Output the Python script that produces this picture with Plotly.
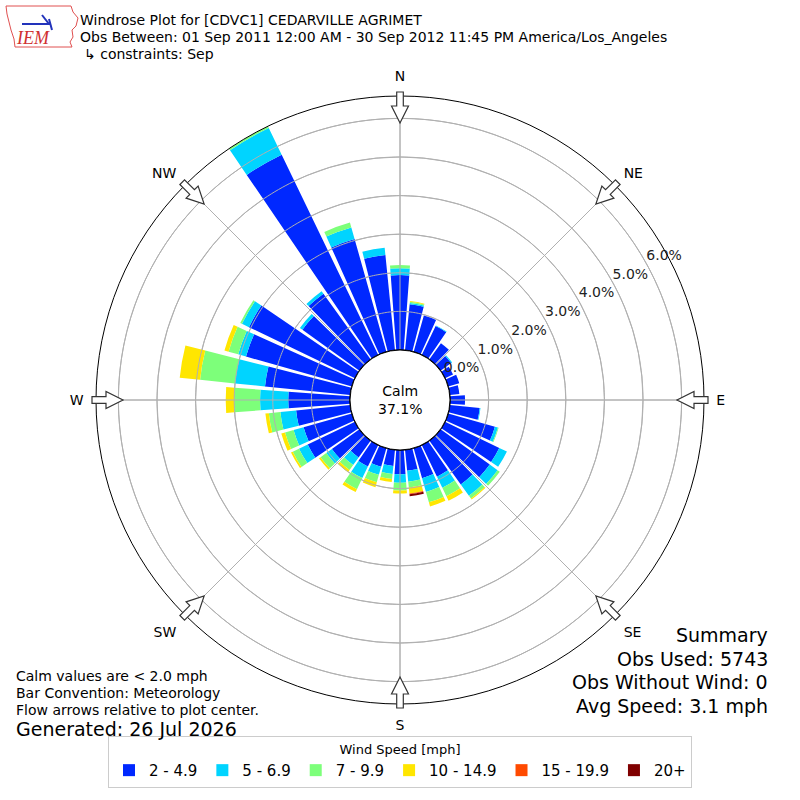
import math
import plotly.graph_objects as go

# wind direction bins (degrees, meteorological) and speed classes
directions = list(range(0, 360, 10))
speed_bins = ["2 - 4.9", "5 - 6.9", "7 - 9.9", "10 - 14.9", "15 - 19.9", "20+"]
bin_colors = ["#0028ff", "#00d4ff", "#7dff7a", "#ffe600", "#ff4a00", "#800000"]

# frequency (% of obs) per direction for each speed class
pct_2_5 = [1.94, 1.20, 0.98, 0.83, 0.52, 0.34, 0.23, 0.30, 0.25, 0.39, 0.78, 1.26,
           1.56, 1.57, 1.40, 0.91, 0.81, 0.55, 0.63, 0.42, 0.50, 0.62, 0.54, 0.88,
           1.36, 1.30, 1.41, 1.60, 2.22, 2.85, 3.05, 1.82, 2.10, 5.76, 3.04, 2.48]
pct_5_7 = [0.18, 0.03, 0.00, 0.02, 0.00, 0.03, 0.00, 0.00, 0.00, 0.00, 0.02, 0.08,
           0.22, 0.25, 0.36, 0.32, 0.37, 0.28, 0.22, 0.21, 0.22, 0.33, 0.24, 0.18,
           0.25, 0.27, 0.41, 0.73, 0.78, 0.21, 0.20, 0.08, 0.08, 0.77, 0.31, 0.19]
pct_7_10 = [0.08, 0.03, 0.00, 0.00, 0.00, 0.00, 0.00, 0.00, 0.00, 0.00, 0.00, 0.02,
            0.00, 0.07, 0.09, 0.24, 0.28, 0.15, 0.20, 0.13, 0.20, 0.32, 0.16, 0.18,
            0.18, 0.23, 0.30, 0.67, 0.91, 0.26, 0.05, 0.00, 0.00, 0.05, 0.13, 0.00]
pct_10_15 = [0.00, 0.02, 0.00, 0.00, 0.00, 0.00, 0.00, 0.00, 0.00, 0.00, 0.00, 0.00,
             0.00, 0.00, 0.03, 0.13, 0.11, 0.16, 0.08, 0.08, 0.13, 0.08, 0.07, 0.05,
             0.05, 0.10, 0.09, 0.22, 0.53, 0.11, 0.00, 0.00, 0.00, 0.00, 0.00, 0.00]
pct_15_20 = [0.0] * 17 + [0.02] + [0.0] * 18
pct_20_up = [0.0] * 17 + [0.05] + [0.0] * 18
speed_values = [pct_2_5, pct_5_7, pct_7_10, pct_10_15, pct_15_20, pct_20_up]

ring_ticks = [0, 1, 2, 3, 4, 5, 6]
ring_labels = ["0.0%", "1.0%", "2.0%", "3.0%", "4.0%", "5.0%", "6.0%"]
compass_angles = [0, 45, 90, 135, 180, 225, 270, 315]
compass_labels = ["N", "NE", "E", "SE", "S", "SW", "W", "NW"]
calm_pct = 37.1
r_max = 6.58

W = H = 800
CX, CY, R_OUT = 400, 400, 304
GRID = "#b0b0b0"
FONT = "DejaVu Sans"

fig = go.Figure()
for name, color, vals in zip(speed_bins, bin_colors, speed_values):
    fig.add_trace(go.Barpolar(
        r=vals, theta=directions, width=8.5, name=name,
        marker=dict(color=color, line=dict(width=0)),
    ))

# grid drawn over the bars, like the original
for rr in ring_ticks[1:]:
    fig.add_trace(go.Scatterpolar(
        r=[rr] * 361, theta=list(range(361)), mode="lines",
        line=dict(color=GRID, width=1), showlegend=False, hoverinfo="skip"))
for ang in compass_angles:
    fig.add_trace(go.Scatterpolar(
        r=[0, r_max], theta=[ang, ang], mode="lines",
        line=dict(color=GRID, width=1), showlegend=False, hoverinfo="skip"))
# black edge of the calm circle
fig.add_trace(go.Scatterpolar(
    r=[0] * 361, theta=list(range(361)), mode="lines", cliponaxis=False,
    line=dict(color="black", width=1.3), showlegend=False, hoverinfo="skip"))
# radial tick labels
fig.add_trace(go.Scatterpolar(
    r=ring_ticks, theta=[61] * len(ring_ticks), mode="text", text=ring_labels,
    textposition="top right", cliponaxis=False,
    textfont=dict(size=14, color="#222"), showlegend=False, hoverinfo="skip"))


def arrow_path(deg):
    s, c = math.sin(math.radians(deg)), math.cos(math.radians(deg))

    def pt(r, w):
        x = CX + r * s + w * c
        y = CY - r * c + w * s
        return f"{x / W:.5f},{1 - y / H:.5f}"

    pts = [pt(308, -3.3), pt(294, -3.3), pt(294, -8.5), pt(277, 0),
           pt(294, 8.5), pt(294, 3.3), pt(308, 3.3)]
    return "M " + " L ".join(pts) + " Z"


shapes = []
for ang in compass_angles:
    shapes.append(dict(type="path", xref="paper", yref="paper", path=arrow_path(ang),
                       fillcolor="white", line=dict(color="#333", width=1.2)))

# rough IEM logo
iowa = [(6, 6), (71, 6), (73, 12), (78, 18), (76, 26), (72, 30), (73, 37), (70, 42),
        (72, 47), (15, 47), (14, 39), (11, 30), (9, 22), (7, 14)]
shapes.append(dict(type="path", xref="paper", yref="paper",
                   path="M " + " L ".join(f"{x / W:.5f},{1 - y / H:.5f}" for x, y in iowa) + " Z",
                   line=dict(color="#e05050", width=1)))
for (x0, y0), (x1, y1) in [((22, 24), (50, 24)), ((42, 15), (49, 24)), ((49, 19), (52, 30))]:
    shapes.append(dict(type="line", xref="paper", yref="paper",
                       x0=x0 / W, y0=1 - y0 / H, x1=x1 / W, y1=1 - y1 / H,
                       line=dict(color="#2233bb", width=2)))

annotations = [
    dict(text="<i>IEM</i>", x=14 / W, y=1 - 38 / H, xanchor="left", yanchor="middle",
         font=dict(family="Liberation Serif", size=18, color="#d03030"), showarrow=False),
    dict(text="Windrose Plot for [CDVC1] CEDARVILLE AGRIMET", x=78 / W, y=1 - 20 / H),
    dict(text="Obs Between: 01 Sep 2011 12:00 AM - 30 Sep 2012 11:45 PM America/Los_Angeles",
         x=78 / W, y=1 - 37 / H),
    dict(text="\u21b3 constraints: Sep", x=82 / W, y=1 - 54 / H),
    dict(text="Calm values are < 2.0 mph", x=14 / W, y=1 - 676 / H),
    dict(text="Bar Convention: Meteorology", x=14 / W, y=1 - 693 / H),
    dict(text="Flow arrows relative to plot center.", x=14 / W, y=1 - 710 / H),
    dict(text="Generated: 26 Jul 2026", x=14 / W, y=1 - 729 / H, font=dict(size=19)),
    dict(text=f"Calm<br>{calm_pct}%", x=0.5, y=0.5, xanchor="center", font=dict(size=14)),
]
for i, line in enumerate(["Summary", "Obs Used: 5743", "Obs Without Wind: 0", "Avg Speed: 3.1 mph"]):
    annotations.append(dict(text=line, x=770 / W, y=1 - (635 + 23.5 * i) / H,
                            xanchor="right", font=dict(size=19)))
for a in annotations:
    a.setdefault("xref", "paper")
    a.setdefault("yref", "paper")
    a.setdefault("xanchor", "left")
    a.setdefault("yanchor", "middle")
    a.setdefault("showarrow", False)
    a.setdefault("font", dict(size=14))
    a["font"].setdefault("color", "black")

fig.update_layout(
    width=W, height=H,
    margin=dict(l=0, r=0, t=0, b=0),
    paper_bgcolor="white",
    font=dict(family=FONT, size=14, color="black"),
    polar=dict(
        domain=dict(x=[(CX - R_OUT) / W, (CX + R_OUT) / W],
                    y=[1 - (CY + R_OUT) / H, 1 - (CY - R_OUT) / H]),
        hole=50 / R_OUT,
        bgcolor="white",
        barmode="stack",
        radialaxis=dict(range=[0, r_max], tickvals=ring_ticks[1:], showticklabels=False,
                        showline=False, ticks="", gridcolor=GRID),
        angularaxis=dict(rotation=90, direction="clockwise", tickvals=compass_angles,
                         ticktext=compass_labels, showline=True, linecolor="black",
                         linewidth=1, gridcolor=GRID, ticks="outside", ticklen=9,
                         tickcolor="rgba(0,0,0,0)", tickfont=dict(size=14)),
    ),
    legend=dict(orientation="h", x=0.5, xanchor="center", y=12 / H, yanchor="bottom",
                bordercolor="#cccccc", borderwidth=1, bgcolor="white",
                font=dict(size=15), itemwidth=30, tracegroupgap=0,
                title=dict(text="Wind Speed [mph]", side="top center", font=dict(size=13))),
    shapes=shapes,
    annotations=annotations,
)

# drop the page's default body margin so the figure sits at the window origin
fig.write_html("out.html", config={"displayModeBar": False},
               post_script="document.body.style.margin='0px';")
